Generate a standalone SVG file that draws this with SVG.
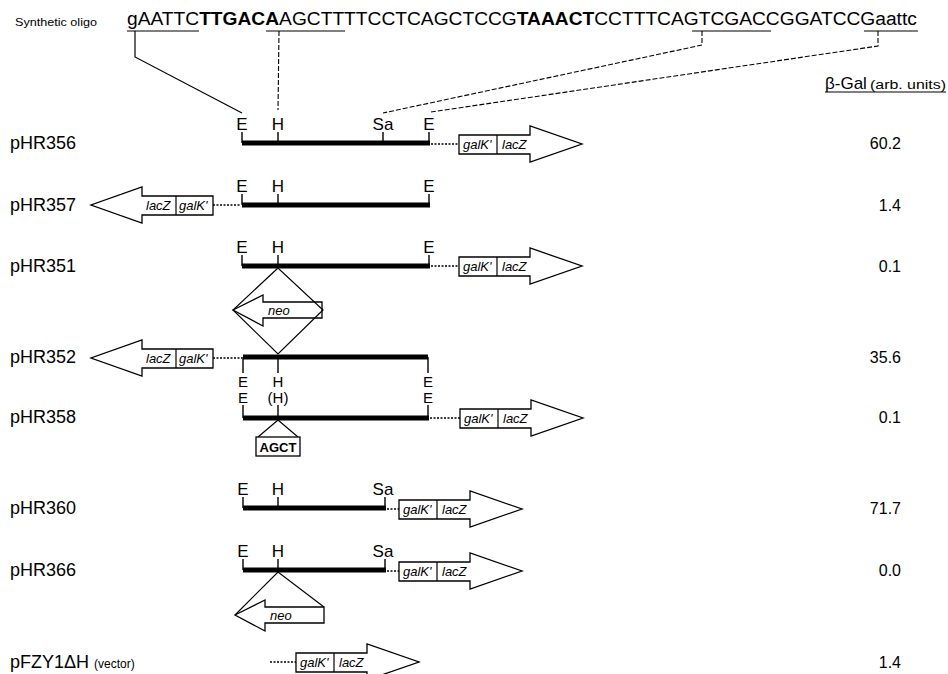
<svg xmlns="http://www.w3.org/2000/svg" xmlns:xlink="http://www.w3.org/1999/xlink" width="948" height="674" viewBox="0 0 948 674">
<style>
text{font-family:"Liberation Sans",Arial,sans-serif;fill:#000}
.seq{font-size:19.2px}
.b{font-weight:bold}
.lbl{font-size:18px}
.val{font-size:16px;text-anchor:end}
.site{font-size:17px;text-anchor:middle}
.st{font-size:15px;text-anchor:middle}
.gene{font-size:13px;font-style:italic}
.bar{stroke:#000;stroke-width:5;fill:none}
.tick{stroke:#000;stroke-width:1.4;fill:none}
.dot{stroke:#000;stroke-width:1.5;stroke-dasharray:2 1.5;fill:none}
.ol{stroke:#000;stroke-width:1.3;fill:#fff}
.ln{stroke:#000;stroke-width:1.2;fill:none}
.dash{stroke:#000;stroke-width:1.1;fill:none;stroke-dasharray:5 2}
</style>
<defs>
<g id="ra"><path class="ol" d="M0,-9 H71 V-18 L123,0 L71,18 V10 H0 Z"/><line class="ln" x1="38" y1="-9" x2="38" y2="10"/></g>
<g id="la"><path class="ol" d="M0,-9 H-71 V-18 L-122,0 L-71,18 V10 H0 Z"/><line class="ln" x1="-37" y1="-9" x2="-37" y2="10"/></g>
<path id="neo" class="ol" d="M0,0 L30,-15 V-8 H89 V8 H30 V16 Z"/>
</defs>

<g id="oligo">
<text x="15" y="26" font-size="11.5" textLength="82" lengthAdjust="spacingAndGlyphs">Synthetic oligo</text>
<text class="seq" x="127" y="25">gAATTC<tspan class="b">TTGACA</tspan>AGCTTTTCCTCAGCTCCG<tspan class="b">TAAACT</tspan>CCTTTCAGTCGACCGGATCCGaattc</text>
<line class="ln" x1="127" y1="31" x2="199" y2="31"/>
<line class="ln" x1="266" y1="31" x2="345" y2="31"/>
<line class="ln" x1="692" y1="31" x2="771" y2="31"/>
<line class="ln" x1="864" y1="31" x2="918" y2="31"/>
</g>

<g id="header">
<text x="825" y="89" font-size="17">β-Gal</text>
<text x="870" y="89" font-size="12.5" textLength="76" lengthAdjust="spacingAndGlyphs">(arb. units)</text>
<line class="ln" x1="825" y1="92" x2="946" y2="92"/>
</g>

<g id="connectors">
<polyline class="ln" points="135,31 135,57 242,113"/>
<line class="dash" x1="279" y1="31" x2="278" y2="110"/>
<polyline class="dash" stroke-dasharray="7 1.5" points="702,31 702,45 383,113"/>
<polyline class="dash" stroke-dasharray="7 1.5" points="878,31 878,46 431,112"/>
</g>

<g id="pHR356">
<text class="lbl" x="10" y="149">pHR356</text>
<line class="bar" x1="242" y1="143" x2="430" y2="143"/>
<path class="tick" d="M242,132V143M278,132V143M383,132V143M429,132V143"/>
<text class="site" x="242" y="130">E</text><text class="site" x="278" y="130">H</text><text class="site" x="383" y="130">Sa</text><text class="site" x="429" y="130">E</text>
<line class="dot" x1="431" y1="144" x2="459" y2="144"/>
<use xlink:href="#ra" x="459" y="144"/>
<text class="gene" x="463" y="149">galK'</text><text class="gene" x="502" y="149">lacZ</text>
<text class="val" x="901" y="149">60.2</text>
</g>

<g id="pHR357">
<text class="lbl" x="10" y="211">pHR357</text>
<line class="bar" x1="242" y1="205" x2="430" y2="205"/>
<path class="tick" d="M242,194V205M278,194V205M429,194V205"/>
<text class="site" x="242" y="192">E</text><text class="site" x="278" y="192">H</text><text class="site" x="429" y="192">E</text>
<line class="dot" x1="213" y1="205" x2="241" y2="205"/>
<use xlink:href="#la" x="213" y="205"/>
<text class="gene" x="146" y="210">lacZ</text><text class="gene" x="179" y="210">galK'</text>
<text class="val" x="901" y="211">1.4</text>
</g>

<g id="pHR351">
<text class="lbl" x="10" y="272">pHR351</text>
<line class="bar" x1="242" y1="266" x2="430" y2="266"/>
<path class="tick" d="M242,255V266M278,255V266M429,255V266"/>
<text class="site" x="242" y="253">E</text><text class="site" x="278" y="253">H</text><text class="site" x="429" y="253">E</text>
<line class="dot" x1="431" y1="266" x2="459" y2="266"/>
<use xlink:href="#ra" x="459" y="266"/>
<text class="gene" x="463" y="271">galK'</text><text class="gene" x="502" y="271">lacZ</text>
<use xlink:href="#neo" x="233" y="310"/>
<polygon class="ln" points="278,268 233,310 278,354 323,310"/>
<text class="gene" x="268" y="315">neo</text>
<text class="val" x="901" y="272">0.1</text>
</g>

<g id="pHR352">
<text class="lbl" x="10" y="363">pHR352</text>
<line class="bar" x1="243" y1="357" x2="428" y2="357"/>
<path class="tick" d="M243,357V373M278,357V373M428,357V373"/>
<text class="st" x="243" y="387">E</text><text class="st" x="278" y="387">H</text><text class="st" x="428" y="387">E</text>
<line class="dot" x1="213" y1="358" x2="242" y2="358"/>
<use xlink:href="#la" x="213" y="358"/>
<text class="gene" x="146" y="363">lacZ</text><text class="gene" x="179" y="363">galK'</text>
<text class="val" x="901" y="363">35.6</text>
</g>

<g id="pHR358">
<text class="lbl" x="10" y="423">pHR358</text>
<line class="bar" x1="243" y1="418" x2="429" y2="418"/>
<path class="tick" d="M243,405V418M278,405V418M428,405V418"/>
<text class="st" x="243" y="403">E</text><text class="st" x="278" y="403">(H)</text><text class="st" x="428" y="403">E</text>
<line class="dot" x1="430" y1="418" x2="460" y2="418"/>
<use xlink:href="#ra" x="460" y="418"/>
<text class="gene" x="464" y="423">galK'</text><text class="gene" x="503" y="423">lacZ</text>
<polyline class="ln" points="258,437 278,420 298,437"/>
<rect class="ol" x="256" y="437" width="44" height="19"/>
<text x="278" y="452" font-size="13" font-weight="bold" text-anchor="middle">AGCT</text>
<text class="val" x="901" y="423">0.1</text>
</g>

<g id="pHR360">
<text class="lbl" x="10" y="514">pHR360</text>
<line class="bar" x1="243" y1="508" x2="386" y2="508"/>
<path class="tick" d="M243,497V508M278,497V508M385,497V508"/>
<text class="site" x="243" y="495">E</text><text class="site" x="278" y="495">H</text><text class="site" x="383" y="495">Sa</text>
<line class="dot" x1="387" y1="509" x2="399" y2="509"/>
<use xlink:href="#ra" x="399" y="509"/>
<text class="gene" x="403" y="514">galK'</text><text class="gene" x="442" y="514">lacZ</text>
<text class="val" x="901" y="514">71.7</text>
</g>

<g id="pHR366">
<text class="lbl" x="10" y="576">pHR366</text>
<line class="bar" x1="243" y1="570" x2="386" y2="570"/>
<path class="tick" d="M243,559V570M278,559V570M385,559V570"/>
<text class="site" x="243" y="557">E</text><text class="site" x="278" y="557">H</text><text class="site" x="383" y="557">Sa</text>
<line class="dot" x1="387" y1="571" x2="399" y2="571"/>
<use xlink:href="#ra" x="399" y="571"/>
<text class="gene" x="403" y="576">galK'</text><text class="gene" x="442" y="576">lacZ</text>
<use xlink:href="#neo" x="235" y="615"/>
<polyline class="ln" points="235,615 278,572 324,607"/>
<text class="gene" x="270" y="620">neo</text>
<text class="val" x="901" y="576">0.0</text>
</g>

<g id="pFZY1dH">
<text class="lbl" x="10" y="668">pFZY1ΔH <tspan font-size="12">(vector)</tspan></text>
<line class="dot" x1="270" y1="662" x2="296" y2="662"/>
<use xlink:href="#ra" x="296" y="662"/>
<text class="gene" x="300" y="667">galK'</text><text class="gene" x="339" y="667">lacZ</text>
<text class="val" x="901" y="668">1.4</text>
</g>
</svg>
